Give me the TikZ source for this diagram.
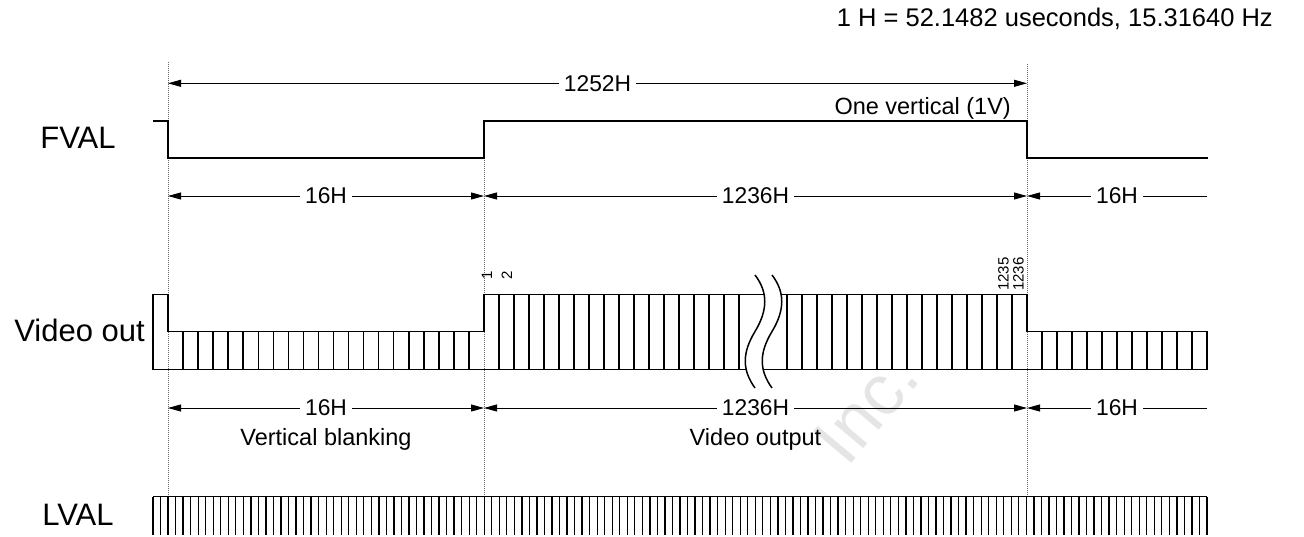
\documentclass[tikz,border=0pt]{standalone}
\usepackage{fontspec}
\setmainfont{Liberation Sans}
\usetikzlibrary{arrows.meta}
\begin{document}
\begin{tikzpicture}[x=1pt,y=-1pt,
  sigline/.style={line width=1.7pt, line join=miter},
  pulse/.style={line width=1.5pt},
  dimline/.style={line width=0.9pt},
  dimarr/.style={dimline, {Triangle[length=13pt,width=7pt]}-{Triangle[length=13pt,width=7pt]}},
  dimleft/.style={dimline, {Triangle[length=13pt,width=7pt]}-},
  guide/.style={line width=0.7pt, black!60, dash pattern=on 1pt off 1pt},
  biglab/.style={font=\fontsize{31}{36}\selectfont, inner sep=0pt},
  dimlab/.style={font=\fontsize{22.8}{26}\selectfont, fill=white, inner xsep=5pt, inner ysep=1pt},
  txt/.style={font=\fontsize{23.5}{27}\selectfont, inner sep=0pt},
  numlab/.style={font=\fontsize{15}{18}\selectfont, rotate=90, anchor=base west, inner sep=0pt},
]
\useasboundingbox (0,0) rectangle (1304,537);

% watermark
\node[rotate=50, text=black!10, font=\fontsize{72}{80}\selectfont, inner sep=0pt] (wm) at (866,408) {Inc.};

% top note
\node[font=\fontsize{25.5}{30}\selectfont, inner sep=0pt, anchor=base east] (note) at (1273,27) {1 H = 52.1482 useconds, 15.31640 Hz};

% guides
\coordinate (gAt) at (168,62);  \coordinate (gAb) at (168,497);
\coordinate (gBt) at (484,158); \coordinate (gBb) at (484,497);
\coordinate (gCt) at (1027,64); \coordinate (gCb) at (1027,497);
\draw[guide] (gAt) -- (gAb);
\draw[guide] (gBt) -- (gBb);
\draw[guide] (gCt) -- (gCb);

% 1252H
\coordinate (t1) at (168,83.3); \coordinate (t2) at (1027,83.3);
\draw[dimarr] (t1) -- (t2) node[midway, dimlab] (l1252) {1252H};
\node[txt, anchor=base east] (onev) at (1011,115) {One vertical (1V)};

% FVAL
\node[biglab] (fval) at (78,138) {FVAL};
\draw[sigline] (153,120.7) -- (168,120.7) -- (168,157.7) -- (484,157.7) -- (484,120.7)
  -- (1027,120.7) -- (1027,157.7) -- (1208,157.7);

% dims row 1
\coordinate (a1) at (168,196); \coordinate (a2) at (484,196);
\coordinate (a3) at (1027,196); \coordinate (a4) at (1207,196);
\draw[dimarr] (a1) -- (a2) node[midway, dimlab] (d16a) {16H};
\draw[dimarr] (a2) -- (a3) node[midway, dimlab] (d1236a) {1236H};
\draw[dimleft] (a3) -- (a4) node[midway, dimlab] (d16b) {16H};

% Video out
\node[biglab, anchor=east] (vout) at (145,330) {Video out};
\def\hi{294.3}\def\lo{331.7}\def\bt{369.3}
\draw[pulse] (153,\bt) -- (153,\hi) -- (168,\hi) -- (168,\lo) -- (484,\lo) -- (484,\hi)
  -- (1027,\hi) -- (1027,\lo) -- (1207,\lo) -- (1207,\bt) -- cycle;
\foreach \k in {1,...,20} \draw[pulse] ({168+\k*15.0476},\lo) -- ({168+\k*15.0476},\bt);
\foreach \k in {1,...,17} \draw[pulse] ({484+\k*15},\hi) -- ({484+\k*15},\bt);
\foreach \k in {1,...,16} \draw[pulse] ({1027-\k*15},\hi) -- ({1027-\k*15},\bt);
\foreach \k in {1,...,11} \draw[pulse] ({1027+\k*15},\lo) -- ({1027+\k*15},\bt);
% break
\fill[white] (755,275) .. controls (768,292) and (768,310) .. (755,331.5)
  .. controls (742,353) and (742,370) .. (755,388)
  -- (772,388) .. controls (759,370) and (759,353) .. (772,331.5)
  .. controls (785,310) and (785,292) .. (772,275) -- cycle;
\draw[pulse] (755,275) .. controls (768,292) and (768,310) .. (755,331.5)
  .. controls (742,353) and (742,370) .. (755,388);
\draw[pulse] (772,275) .. controls (785,292) and (785,310) .. (772,331.5)
  .. controls (759,353) and (759,370) .. (772,388);
% pulse numbers
\node[numlab] (n1) at (492,280) {1};
\node[numlab] (n2) at (512,280) {2};
\node[numlab] (n1235) at (1008.5,291) {1235};
\node[numlab] (n1236) at (1023.5,291) {1236};

% dims row 2
\coordinate (b1) at (168,408); \coordinate (b2) at (484,408);
\coordinate (b3) at (1027,408); \coordinate (b4) at (1207,408);
\draw[dimarr] (b1) -- (b2) node[midway, dimlab] (e16a) {16H};
\draw[dimarr] (b2) -- (b3) node[midway, dimlab] (e1236a) {1236H};
\draw[dimleft] (b3) -- (b4) node[midway, dimlab] (e16b) {16H};
\node[txt, anchor=base] (vb) at (326,445) {Vertical blanking};
\node[txt, anchor=base] (vo) at (755.5,445) {Video output};

% LVAL
\node[biglab] (lval) at (78,515) {LVAL};
\draw[pulse] (153,496.7) -- (1207,496.7);
\foreach \k in {0,...,140} \draw[line width=1.3pt] ({153+\k*7.52857},496.7) -- ({153+\k*7.52857},535);
\end{tikzpicture}
\end{document}
